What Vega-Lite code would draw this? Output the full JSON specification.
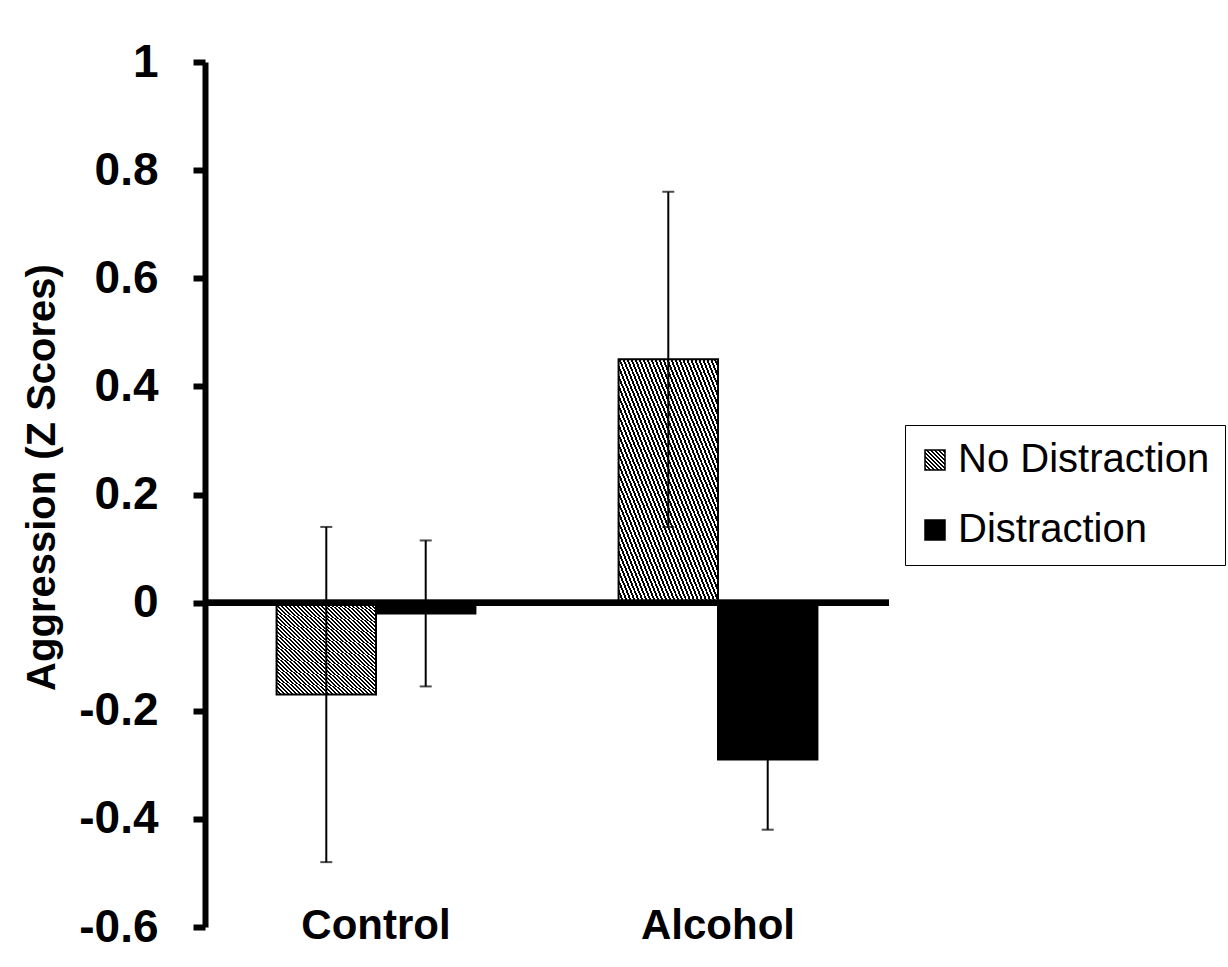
{
  "$schema": "https://vega.github.io/schema/vega-lite/v6.json",
  "width": 684,
  "height": 865,
  "autosize": {"type": "none"},
  "padding": {"left": 205, "top": 62, "right": 339, "bottom": 40},
  "background": "white",
  "config": {
    "font": "Liberation Sans",
    "view": {"stroke": null}
  },
  "data": {
    "values": [
      {"group": "Control", "cond": "No Distraction", "mean": -0.17, "lo": -0.48, "hi": 0.14},
      {"group": "Control", "cond": "Distraction", "mean": -0.02, "lo": -0.155, "hi": 0.115},
      {"group": "Alcohol", "cond": "No Distraction", "mean": 0.45, "lo": 0.14, "hi": 0.76},
      {"group": "Alcohol", "cond": "Distraction", "mean": -0.29, "lo": -0.42, "hi": -0.16}
    ]
  },
  "layer": [
    {
      "mark": {"type": "bar", "stroke": "black", "strokeWidth": 2},
      "encoding": {
        "x": {
          "field": "group",
          "type": "nominal",
          "sort": ["Control", "Alcohol"],
          "scale": {"paddingInner": 0, "paddingOuter": 0},
          "axis": {
            "title": null,
            "domain": false,
            "ticks": false,
            "labelAngle": 0,
            "labelFontSize": 42,
            "labelFontWeight": "bold",
            "labelColor": "black",
            "labelBaseline": "alphabetic",
            "labelPadding": 11
          }
        },
        "xOffset": {
          "field": "cond",
          "type": "nominal",
          "sort": ["No Distraction", "Distraction"],
          "scale": {"paddingInner": 0, "paddingOuter": 0.72}
        },
        "y": {
          "field": "mean",
          "type": "quantitative",
          "scale": {"domain": [-0.6, 1], "nice": false, "zero": false},
          "axis": {
            "title": "Aggression (Z Scores)",
            "titleFontSize": 40,
            "titleFontWeight": "bold",
            "titleColor": "black",
            "titleAngle": 270,
            "titleAlign": "center",
            "titleBaseline": "alphabetic",
            "titleX": -151,
            "titleY": 415,
            "values": [-0.6, -0.4, -0.2, 0, 0.2, 0.4, 0.6, 0.8, 1],
            "labelExpr": "'' + datum.value",
            "labelFontSize": 46,
            "labelFontWeight": "bold",
            "labelColor": "black",
            "labelBaseline": "middle",
            "labelPadding": 35,
            "grid": false,
            "domainColor": "black",
            "domainWidth": 6,
            "tickColor": "black",
            "tickWidth": 6,
            "tickSize": 12
          }
        },
        "color": {
          "field": "cond",
          "type": "nominal",
          "scale": {
            "domain": ["No Distraction", "Distraction"],
            "range": [
              {"expr": "{gradient: 'linear', x1: 0, y1: 1, x2: 1, y2: 0, stops: [{offset: 0, color: 'black'}, {offset: 0.05, color: 'black'}, {offset: 0.05, color: 'white'}, {offset: 0.1, color: 'white'}, {offset: 0.1, color: 'black'}, {offset: 0.15, color: 'black'}, {offset: 0.15, color: 'white'}, {offset: 0.2, color: 'white'}, {offset: 0.2, color: 'black'}, {offset: 0.25, color: 'black'}, {offset: 0.25, color: 'white'}, {offset: 0.3, color: 'white'}, {offset: 0.3, color: 'black'}, {offset: 0.35, color: 'black'}, {offset: 0.35, color: 'white'}, {offset: 0.4, color: 'white'}, {offset: 0.4, color: 'black'}, {offset: 0.45, color: 'black'}, {offset: 0.45, color: 'white'}, {offset: 0.5, color: 'white'}, {offset: 0.5, color: 'black'}, {offset: 0.55, color: 'black'}, {offset: 0.55, color: 'white'}, {offset: 0.6, color: 'white'}, {offset: 0.6, color: 'black'}, {offset: 0.65, color: 'black'}, {offset: 0.65, color: 'white'}, {offset: 0.7, color: 'white'}, {offset: 0.7, color: 'black'}, {offset: 0.75, color: 'black'}, {offset: 0.75, color: 'white'}, {offset: 0.8, color: 'white'}, {offset: 0.8, color: 'black'}, {offset: 0.85, color: 'black'}, {offset: 0.85, color: 'white'}, {offset: 0.9, color: 'white'}, {offset: 0.9, color: 'black'}, {offset: 0.95, color: 'black'}, {offset: 0.95, color: 'white'}, {offset: 1, color: 'white'}]}"},
              "black"
            ]
          },
          "condition": {
            "test": "datum.cond === 'No Distraction'",
            "value": {
              "gradient": "linear", "x1": 0, "y1": 1, "x2": 1, "y2": 0,
              "stops": [
                {"offset": 0.00, "color": "black"}, {"offset": 0.01, "color": "black"}, {"offset": 0.01, "color": "white"}, {"offset": 0.02, "color": "white"},
                {"offset": 0.02, "color": "black"}, {"offset": 0.03, "color": "black"}, {"offset": 0.03, "color": "white"}, {"offset": 0.04, "color": "white"},
                {"offset": 0.04, "color": "black"}, {"offset": 0.05, "color": "black"}, {"offset": 0.05, "color": "white"}, {"offset": 0.06, "color": "white"},
                {"offset": 0.06, "color": "black"}, {"offset": 0.07, "color": "black"}, {"offset": 0.07, "color": "white"}, {"offset": 0.08, "color": "white"},
                {"offset": 0.08, "color": "black"}, {"offset": 0.09, "color": "black"}, {"offset": 0.09, "color": "white"}, {"offset": 0.10, "color": "white"},
                {"offset": 0.10, "color": "black"}, {"offset": 0.11, "color": "black"}, {"offset": 0.11, "color": "white"}, {"offset": 0.12, "color": "white"},
                {"offset": 0.12, "color": "black"}, {"offset": 0.13, "color": "black"}, {"offset": 0.13, "color": "white"}, {"offset": 0.14, "color": "white"},
                {"offset": 0.14, "color": "black"}, {"offset": 0.15, "color": "black"}, {"offset": 0.15, "color": "white"}, {"offset": 0.16, "color": "white"},
                {"offset": 0.16, "color": "black"}, {"offset": 0.17, "color": "black"}, {"offset": 0.17, "color": "white"}, {"offset": 0.18, "color": "white"},
                {"offset": 0.18, "color": "black"}, {"offset": 0.19, "color": "black"}, {"offset": 0.19, "color": "white"}, {"offset": 0.20, "color": "white"},
                {"offset": 0.20, "color": "black"}, {"offset": 0.21, "color": "black"}, {"offset": 0.21, "color": "white"}, {"offset": 0.22, "color": "white"},
                {"offset": 0.22, "color": "black"}, {"offset": 0.23, "color": "black"}, {"offset": 0.23, "color": "white"}, {"offset": 0.24, "color": "white"},
                {"offset": 0.24, "color": "black"}, {"offset": 0.25, "color": "black"}, {"offset": 0.25, "color": "white"}, {"offset": 0.26, "color": "white"},
                {"offset": 0.26, "color": "black"}, {"offset": 0.27, "color": "black"}, {"offset": 0.27, "color": "white"}, {"offset": 0.28, "color": "white"},
                {"offset": 0.28, "color": "black"}, {"offset": 0.29, "color": "black"}, {"offset": 0.29, "color": "white"}, {"offset": 0.30, "color": "white"},
                {"offset": 0.30, "color": "black"}, {"offset": 0.31, "color": "black"}, {"offset": 0.31, "color": "white"}, {"offset": 0.32, "color": "white"},
                {"offset": 0.32, "color": "black"}, {"offset": 0.33, "color": "black"}, {"offset": 0.33, "color": "white"}, {"offset": 0.34, "color": "white"},
                {"offset": 0.34, "color": "black"}, {"offset": 0.35, "color": "black"}, {"offset": 0.35, "color": "white"}, {"offset": 0.36, "color": "white"},
                {"offset": 0.36, "color": "black"}, {"offset": 0.37, "color": "black"}, {"offset": 0.37, "color": "white"}, {"offset": 0.38, "color": "white"},
                {"offset": 0.38, "color": "black"}, {"offset": 0.39, "color": "black"}, {"offset": 0.39, "color": "white"}, {"offset": 0.40, "color": "white"},
                {"offset": 0.40, "color": "black"}, {"offset": 0.41, "color": "black"}, {"offset": 0.41, "color": "white"}, {"offset": 0.42, "color": "white"},
                {"offset": 0.42, "color": "black"}, {"offset": 0.43, "color": "black"}, {"offset": 0.43, "color": "white"}, {"offset": 0.44, "color": "white"},
                {"offset": 0.44, "color": "black"}, {"offset": 0.45, "color": "black"}, {"offset": 0.45, "color": "white"}, {"offset": 0.46, "color": "white"},
                {"offset": 0.46, "color": "black"}, {"offset": 0.47, "color": "black"}, {"offset": 0.47, "color": "white"}, {"offset": 0.48, "color": "white"},
                {"offset": 0.48, "color": "black"}, {"offset": 0.49, "color": "black"}, {"offset": 0.49, "color": "white"}, {"offset": 0.50, "color": "white"},
                {"offset": 0.50, "color": "black"}, {"offset": 0.51, "color": "black"}, {"offset": 0.51, "color": "white"}, {"offset": 0.52, "color": "white"},
                {"offset": 0.52, "color": "black"}, {"offset": 0.53, "color": "black"}, {"offset": 0.53, "color": "white"}, {"offset": 0.54, "color": "white"},
                {"offset": 0.54, "color": "black"}, {"offset": 0.55, "color": "black"}, {"offset": 0.55, "color": "white"}, {"offset": 0.56, "color": "white"},
                {"offset": 0.56, "color": "black"}, {"offset": 0.57, "color": "black"}, {"offset": 0.57, "color": "white"}, {"offset": 0.58, "color": "white"},
                {"offset": 0.58, "color": "black"}, {"offset": 0.59, "color": "black"}, {"offset": 0.59, "color": "white"}, {"offset": 0.60, "color": "white"},
                {"offset": 0.60, "color": "black"}, {"offset": 0.61, "color": "black"}, {"offset": 0.61, "color": "white"}, {"offset": 0.62, "color": "white"},
                {"offset": 0.62, "color": "black"}, {"offset": 0.63, "color": "black"}, {"offset": 0.63, "color": "white"}, {"offset": 0.64, "color": "white"},
                {"offset": 0.64, "color": "black"}, {"offset": 0.65, "color": "black"}, {"offset": 0.65, "color": "white"}, {"offset": 0.66, "color": "white"},
                {"offset": 0.66, "color": "black"}, {"offset": 0.67, "color": "black"}, {"offset": 0.67, "color": "white"}, {"offset": 0.68, "color": "white"},
                {"offset": 0.68, "color": "black"}, {"offset": 0.69, "color": "black"}, {"offset": 0.69, "color": "white"}, {"offset": 0.70, "color": "white"},
                {"offset": 0.70, "color": "black"}, {"offset": 0.71, "color": "black"}, {"offset": 0.71, "color": "white"}, {"offset": 0.72, "color": "white"},
                {"offset": 0.72, "color": "black"}, {"offset": 0.73, "color": "black"}, {"offset": 0.73, "color": "white"}, {"offset": 0.74, "color": "white"},
                {"offset": 0.74, "color": "black"}, {"offset": 0.75, "color": "black"}, {"offset": 0.75, "color": "white"}, {"offset": 0.76, "color": "white"},
                {"offset": 0.76, "color": "black"}, {"offset": 0.77, "color": "black"}, {"offset": 0.77, "color": "white"}, {"offset": 0.78, "color": "white"},
                {"offset": 0.78, "color": "black"}, {"offset": 0.79, "color": "black"}, {"offset": 0.79, "color": "white"}, {"offset": 0.80, "color": "white"},
                {"offset": 0.80, "color": "black"}, {"offset": 0.81, "color": "black"}, {"offset": 0.81, "color": "white"}, {"offset": 0.82, "color": "white"},
                {"offset": 0.82, "color": "black"}, {"offset": 0.83, "color": "black"}, {"offset": 0.83, "color": "white"}, {"offset": 0.84, "color": "white"},
                {"offset": 0.84, "color": "black"}, {"offset": 0.85, "color": "black"}, {"offset": 0.85, "color": "white"}, {"offset": 0.86, "color": "white"},
                {"offset": 0.86, "color": "black"}, {"offset": 0.87, "color": "black"}, {"offset": 0.87, "color": "white"}, {"offset": 0.88, "color": "white"},
                {"offset": 0.88, "color": "black"}, {"offset": 0.89, "color": "black"}, {"offset": 0.89, "color": "white"}, {"offset": 0.90, "color": "white"},
                {"offset": 0.90, "color": "black"}, {"offset": 0.91, "color": "black"}, {"offset": 0.91, "color": "white"}, {"offset": 0.92, "color": "white"},
                {"offset": 0.92, "color": "black"}, {"offset": 0.93, "color": "black"}, {"offset": 0.93, "color": "white"}, {"offset": 0.94, "color": "white"},
                {"offset": 0.94, "color": "black"}, {"offset": 0.95, "color": "black"}, {"offset": 0.95, "color": "white"}, {"offset": 0.96, "color": "white"},
                {"offset": 0.96, "color": "black"}, {"offset": 0.97, "color": "black"}, {"offset": 0.97, "color": "white"}, {"offset": 0.98, "color": "white"},
                {"offset": 0.98, "color": "black"}, {"offset": 0.99, "color": "black"}, {"offset": 0.99, "color": "white"}, {"offset": 1.00, "color": "white"}
              ]
            }
          },
          "legend": {
            "title": null,
            "orient": "none",
            "legendX": 700,
            "legendY": 363,
            "direction": "vertical",
            "strokeColor": "black",
            "fillColor": "white",
            "padding": 15,
            "symbolType": "square",
            "symbolSize": 400,
            "symbolOffset": -5,
            "labelFontSize": 40,
            "labelColor": "black",
            "labelOffset": 3,
            "labelLimit": 400,
            "rowPadding": 30,
            "encode": {
              "legend": {
                "update": {
                  "strokeWidth": {"value": 2}
                }
              },
              "symbols": {
                "update": {
                  "stroke": {"value": "black"},
                  "strokeWidth": {"value": 1}
                }
              }
            }
          }
        }
      }
    },
    {
      "mark": {"type": "rule", "color": "black", "strokeWidth": 6},
      "encoding": {"y": {"datum": 0, "type": "quantitative"}}
    },
    {
      "mark": {"type": "rule", "color": "black", "strokeWidth": 2},
      "encoding": {
        "x": {"field": "group", "type": "nominal", "sort": ["Control", "Alcohol"]},
        "xOffset": {"field": "cond", "type": "nominal", "sort": ["No Distraction", "Distraction"]},
        "y": {"field": "lo", "type": "quantitative"},
        "y2": {"field": "hi"}
      }
    },
    {
      "mark": {"type": "tick", "color": "black", "thickness": 2, "size": 12, "orient": "horizontal"},
      "encoding": {
        "x": {"field": "group", "type": "nominal", "sort": ["Control", "Alcohol"]},
        "xOffset": {"field": "cond", "type": "nominal", "sort": ["No Distraction", "Distraction"]},
        "y": {"field": "lo", "type": "quantitative"}
      }
    },
    {
      "mark": {"type": "tick", "color": "black", "thickness": 2, "size": 12, "orient": "horizontal"},
      "encoding": {
        "x": {"field": "group", "type": "nominal", "sort": ["Control", "Alcohol"]},
        "xOffset": {"field": "cond", "type": "nominal", "sort": ["No Distraction", "Distraction"]},
        "y": {"field": "hi", "type": "quantitative"}
      }
    }
  ]
}
